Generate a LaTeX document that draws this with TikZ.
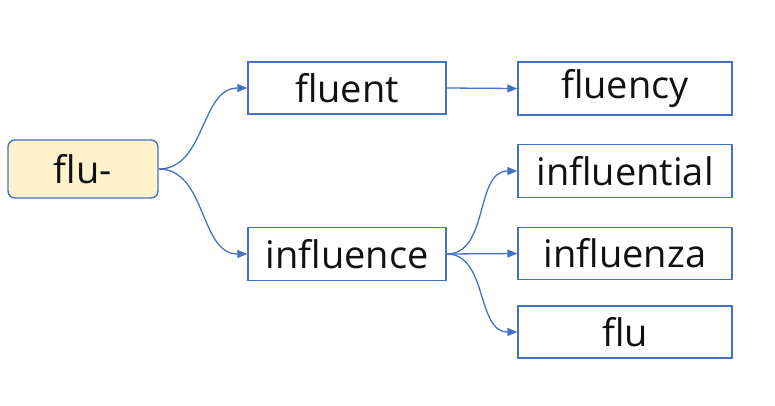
\documentclass[tikz,border=0pt]{standalone}
\usepackage{fontspec}
\setmainfont{Open Sans}
\usepackage{xcolor}
\usepackage{tikz}
\usetikzlibrary{positioning, calc, arrows.meta}

\definecolor{linkblue}{HTML}{4472C4}
\definecolor{rootfill}{HTML}{FFF2CC}
\definecolor{wordtext}{HTML}{111111}

\tikzset{
    word/.style={draw=linkblue, line width=1.4pt, fill=white, text=wordtext,
                 font=\fontsize{38}{40}\selectfont, inner sep=0pt},
    rootword/.style={word, fill=rootfill, rounded corners=7pt},
    link/.style={draw=linkblue, line width=1.3pt, -{Triangle[length=10pt,width=8pt]}}
}

\begin{document}
\begin{tikzpicture}[x=1pt, y=-1pt]

    \useasboundingbox (0,0) rectangle (775,405);

    % Root: the prefix
    \node[rootword, minimum width=150pt, minimum height=58pt] (flu) at (83,169) {flu-};

    % First level words
    \node[word, minimum width=198pt, minimum height=52pt] (fluent) at (347,88) {fluent};
    \node[word, minimum width=198pt, minimum height=53pt] (influence) at (347,254) {influence};

    % Second level words
    \node[word, minimum width=214pt, minimum height=53pt] (fluency) at (625,88.5) {fluency};
    \node[word, minimum width=214pt, minimum height=53pt] (influential) at (625,171) {influential};
    \node[word, minimum width=214pt, minimum height=52pt] (influenza) at (625,253.5) {influenza};
    \node[word, minimum width=214pt, minimum height=52pt] (flutail) at (625,332) {flu};

    % Links from the root
    \draw[link] (flu.east) to[out=0, in=180] (fluent.west);
    \draw[link] (flu.east) to[out=0, in=180] (influence.west);

    % Link from fluent
    \draw[link] (fluent.east) -- (fluency.west);

    % Links from influence
    \draw[link] (influence.east) to[out=0, in=180] (influential.west);
    \draw[link] (influence.east) -- (influenza.west);
    \draw[link] (influence.east) to[out=0, in=180] (flutail.west);

\end{tikzpicture}
\end{document}
